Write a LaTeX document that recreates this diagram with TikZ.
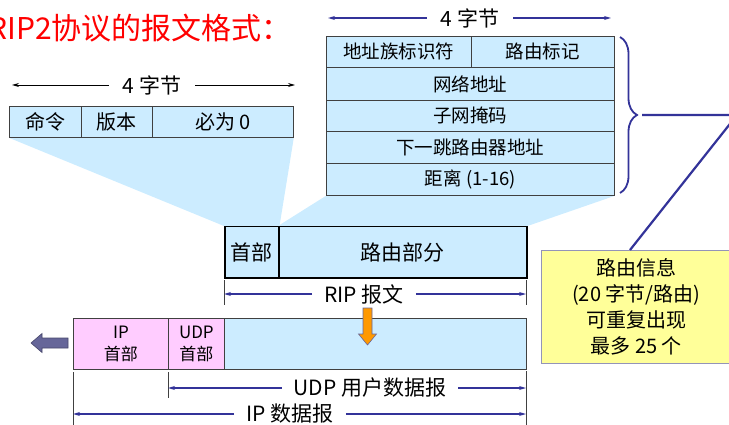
\documentclass[tikz,border=0pt]{standalone}
\usepackage{fontspec}
\setmainfont{Noto Sans CJK SC}
\usepackage{tikz}
\usetikzlibrary{arrows.meta, positioning, decorations.pathreplacing, backgrounds}
\definecolor{cellblue}{RGB}{204,236,255}
\definecolor{hdrpink}{RGB}{255,204,255}
\definecolor{infoyellow}{RGB}{255,255,153}
\definecolor{mynavy}{RGB}{51,51,153}
\definecolor{myslate}{RGB}{102,102,153}
\definecolor{myorange}{RGB}{255,153,0}
\definecolor{cellline}{RGB}{64,64,64}
\tikzset{
  cell/.style={rectangle, draw=cellline, fill=cellblue, inner sep=0pt,
    anchor=north west, line width=0.8pt, font=\fontsize{20}{24}\selectfont},
  rowcell/.style={cell, font=\fontsize{18.5}{22}\selectfont},
  ripcell/.style={cell, draw=black, line width=1.5pt},
  ipcell/.style={cell, fill=hdrpink, align=center, font=\fontsize{17}{22}\selectfont},
  dimlabel/.style={inner xsep=12pt, inner ysep=0pt, font=\fontsize{21}{24}\selectfont},
  dim/.style={-{Stealth[length=7pt,width=4pt]}, draw=mynavy, line width=1.2pt},
  blackdim/.style={dim, draw=black, line width=0.9pt},
  tick/.style={draw=cellline, line width=0.8pt},
  link/.style={draw=mynavy, line width=2.2pt},
  fan/.style={fill=cellblue, draw=none}
}
\begin{document}
\begin{tikzpicture}[x=1pt, y=-1pt]
  \useasboundingbox (0,0) rectangle (729,425);
  % Title
  \node[anchor=base west, inner sep=0pt, text=red, font=\fontsize{30}{34}\selectfont]
    (title) at (-12,40) {RIP2协议的报文格式：};

  % RIP header fields
  \node[dimlabel, inner xsep=14pt] (lbytes) at (152,85) {4 字节};
  \coordinate (lbytesL) at (12,85);
  \coordinate (lbytesR) at (295,85);
  \draw[blackdim] (lbytes) -- (lbytesL);
  \draw[blackdim] (lbytes) -- (lbytesR);
  \node[cell, minimum width=72pt, minimum height=31pt] (cmd) at (9,106) {命令};
  \node[cell, minimum width=71pt, minimum height=31pt] (ver) at (81,106) {版本};
  \node[cell, minimum width=141pt, minimum height=31pt] (zero) at (152,106) {必为 0};

  % Route entry fields
  \node[dimlabel, inner xsep=14pt] (rbytes) at (470,18) {4 字节};
  \coordinate (rbytesL) at (328,18);
  \coordinate (rbytesR) at (611,18);
  \draw[dim] (rbytes) -- (rbytesL);
  \draw[dim] (rbytes) -- (rbytesR);
  \node[rowcell, minimum width=145pt, minimum height=31pt] (family) at (326,36) {地址族标识符};
  \node[rowcell, minimum width=143pt, minimum height=31pt] (routetag) at (471,36) {路由标记};
  \node[rowcell, minimum width=288pt, minimum height=33pt] (netaddr) at (326,67) {网络地址};
  \node[rowcell, minimum width=288pt, minimum height=31pt] (netmask) at (326,100) {子网掩码};
  \node[rowcell, minimum width=288pt, minimum height=32pt] (nexthop) at (326,131) {下一跳路由器地址};
  \node[rowcell, minimum width=288pt, minimum height=32pt] (metric) at (326,163) {距离 (1-16)};

  % Brace and routing info note
  \draw[link, line width=1.8pt, decorate, decoration={brace, amplitude=17pt}]
    (620,37) -- (620,193);
  \coordinate (bracetip) at (642,115);
  \node[draw=myslate!70, fill=infoyellow, anchor=north west, inner sep=0pt,
    minimum width=190pt, minimum height=113pt, align=center,
    font=\fontsize{20}{26}\selectfont] (info) at (541,250)
    {路由信息\\(20 字节/路由)\\可重复出现\\最多 25 个};
  \path (info.north west) ++(89,0) coordinate (infotop);
  \coordinate (meet) at (737,115);
  \draw[link] (bracetip) -- (meet) -- (infotop);

  % RIP message
  \node[ripcell, minimum width=54pt, minimum height=51pt, font=\fontsize{21}{24}\selectfont]
    (riphead) at (224,226) {首部};
  \node[ripcell, minimum width=248pt, minimum height=51pt, font=\fontsize{21}{24}\selectfont]
    (ripbody) at (278,226) {路由部分};

  % Expansion fans
  \begin{scope}[on background layer]
    \fill[fan] (cmd.south west) -- (zero.south east) -- (riphead.north east) -- (riphead.north west) -- cycle;
    \fill[fan] (family.south west |- metric.south) -- (metric.south east) -- (ripbody.north east) -- (ripbody.north west) -- cycle;
  \end{scope}

  \node[dimlabel] (riplbl) at (364,294) {RIP 报文};
  \coordinate (ripL) at (224,294);
  \coordinate (ripR) at (526,294);
  \draw[tick] (224,280) -- (224,305);
  \draw[tick] (526,280) -- (526,305);
  \draw[dim] (riplbl) -- (ripL);
  \draw[dim] (riplbl) -- (ripR);

  % IP datagram
  \node[ipcell, minimum width=95pt, minimum height=51pt] (iphead) at (73,318) {IP\\首部};
  \node[ipcell, minimum width=56pt, minimum height=51pt] (udphead) at (168,318) {UDP\\首部};
  \node[cell, minimum width=302pt, minimum height=51pt] (payload) at (224,318) {};
  \filldraw[fill=myorange, draw=myslate, line width=0.6pt]
    (363,308) -- (372,308) -- (372,334) -- (376.5,334) -- (367.5,345)
    -- (358.5,334) -- (363,334) -- cycle;
  \filldraw[fill=myslate, draw=myslate!70!black, line width=0.6pt]
    (68,338) -- (42,338) -- (42,333.5) -- (31,343) -- (42,352.5) -- (42,348) -- (68,348) -- cycle;

  \draw[tick] (168,372) -- (168,398);
  \draw[tick] (73,372) -- (73,425);
  \draw[tick] (526,371) -- (526,425);
  \node[dimlabel] (udplbl) at (370,388) {UDP 用户数据报};
  \coordinate (udpL) at (168,388);
  \coordinate (udpR) at (526,388);
  \draw[dim] (udplbl) -- (udpL);
  \draw[dim] (udplbl) -- (udpR);
  \node[dimlabel] (iplbl) at (290,414) {IP 数据报};
  \coordinate (ipL) at (73,414);
  \coordinate (ipR) at (526,414);
  \draw[dim] (iplbl) -- (ipL);
  \draw[dim] (iplbl) -- (ipR);
\end{tikzpicture}
\end{document}
